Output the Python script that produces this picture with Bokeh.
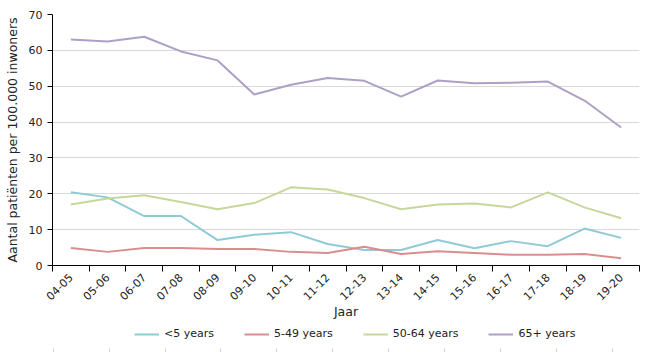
import math
from bokeh.plotting import figure
from bokeh.models import FixedTicker, Legend, LegendItem, ColumnDataSource, Range1d
from bokeh.layouts import column
from bokeh.embed import file_html
from bokeh.resources import INLINE

years = ["04-05", "05-06", "06-07", "07-08", "08-09", "09-10", "10-11", "11-12",
         "12-13", "13-14", "14-15", "15-16", "16-17", "17-18", "18-19", "19-20"]
under5 = [20.4, 19.0, 13.8, 13.8, 7.1, 8.6, 9.3, 6.0, 4.3, 4.3, 7.1, 4.8, 6.8, 5.4, 10.3, 7.7]
age5_49 = [4.9, 3.8, 4.9, 4.9, 4.6, 4.6, 3.8, 3.5, 5.2, 3.2, 4.0, 3.5, 3.0, 3.0, 3.2, 2.0]
age50_64 = [17.0, 18.7, 19.6, 17.7, 15.7, 17.4, 21.8, 21.2, 18.8, 15.7, 17.0, 17.3, 16.2, 20.4, 16.2, 13.2]
age65 = [63.0, 62.5, 63.8, 59.7, 57.2, 47.7, 50.4, 52.3, 51.5, 47.1, 51.6, 50.8, 51.0, 51.3, 46.0, 38.5]
series_names = ["<5 years", "5-49 years", "50-64 years", "65+ years"]
colors = ["#8FCAD6", "#D98E8E", "#C5D89A", "#ADA0C6"]
y_ticks = [0, 10, 20, 30, 40, 50, 60, 70]

FONT = "DejaVu Sans"
xs = [i + 0.5 for i in range(len(years))]
series = [under5, age5_49, age50_64, age65]

p = figure(width=650, height=322, output_backend="svg", toolbar_location=None,
           x_range=(0, len(years)), y_range=(0, 70),
           min_border_left=52, min_border_right=11, min_border_top=14, min_border_bottom=57)
p.outline_line_color = None
p.background_fill_color = "white"
p.border_fill_color = "white"

for vals, c in zip(series, colors):
    src = ColumnDataSource(dict(x=xs, y=vals))
    p.line("x", "y", source=src, line_color=c, line_width=2)

# x axis
p.xaxis.ticker = FixedTicker(ticks=xs, minor_ticks=list(range(len(years) + 1)))
p.xaxis.major_label_overrides = {x: y for x, y in zip(xs, years)}
p.xaxis.major_tick_out = 0
p.xaxis.major_tick_in = 0
p.xaxis.minor_tick_out = 6
p.xaxis.minor_tick_in = 0
p.xaxis.minor_tick_line_color = "black"
p.xaxis.axis_line_color = "black"
p.xaxis.major_label_orientation = math.pi / 4
p.xaxis.major_label_text_font = FONT
p.xaxis.major_label_text_font_size = "11px"
p.xaxis.major_label_text_color = "#222222"
p.xaxis.major_label_standoff = 4
p.xaxis.axis_label = "Jaar"
p.xaxis.axis_label_text_font = FONT
p.xaxis.axis_label_text_font_size = "12.5px"
p.xaxis.axis_label_text_font_style = "normal"
p.xaxis.axis_label_text_color = "#222222"
p.xaxis.axis_label_standoff = -3
p.xgrid.grid_line_color = None

# y axis
p.yaxis.ticker = FixedTicker(ticks=y_ticks)
p.yaxis.major_tick_out = 5
p.yaxis.major_tick_in = 0
p.yaxis.minor_tick_line_color = None
p.yaxis.axis_line_color = "black"
p.yaxis.major_tick_line_color = "black"
p.yaxis.major_label_text_font = FONT
p.yaxis.major_label_text_font_size = "11px"
p.yaxis.major_label_text_color = "#222222"
p.yaxis.axis_label = "Aantal patiënten per 100.000 inwoners"
p.yaxis.axis_label_text_font = FONT
p.yaxis.axis_label_text_font_size = "12.5px"
p.yaxis.axis_label_text_font_style = "normal"
p.yaxis.axis_label_text_color = "#222222"
p.yaxis.axis_label_standoff = 6
p.ygrid.grid_line_color = "#D9D9D9"
p.ygrid.grid_line_width = 1

# legend strip below the chart (its series lines fall outside its own y-range)
lg = figure(width=650, height=30, output_backend="svg", toolbar_location=None,
            x_range=Range1d(51, 639), y_range=Range1d(-1, 0),
            min_border_left=52, min_border_right=11, min_border_top=0, min_border_bottom=0)
lg.outline_line_color = None
lg.grid.grid_line_color = None
lg.yaxis.visible = False
lg_renderers = [lg.line(x=xs, y=vals, line_color=c, line_width=2) for vals, c in zip(series, colors)]
lg.xaxis.ticker = FixedTicker(ticks=[], minor_ticks=[51.7 + 56 * k for k in range(11)])
lg.xaxis.axis_line_color = None
lg.xaxis.major_tick_line_color = None
lg.xaxis.minor_tick_out = 0
lg.xaxis.minor_tick_in = 4
lg.xaxis.minor_tick_line_color = "#D4D4D4"
lg.xaxis.major_label_standoff = 0

legend = Legend(items=[LegendItem(label=n, renderers=[r]) for n, r in zip(series_names, lg_renderers)],
                orientation="horizontal", location=(82, 12),
                glyph_width=25, glyph_height=10, label_standoff=5, spacing=30,
                label_text_font=FONT, label_text_font_size="11px", label_text_color="#222222",
                border_line_color=None, background_fill_alpha=0, padding=0, margin=0)
lg.add_layout(legend, "center")

layout = column(p, lg, spacing=0)
open("out.html", "w").write(file_html(layout, INLINE))
